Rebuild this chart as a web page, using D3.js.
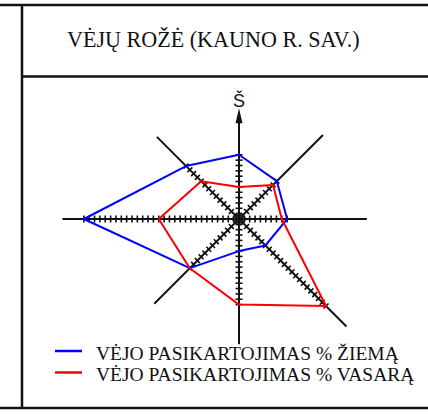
<!DOCTYPE html>
<html>
<head>
<meta charset="utf-8">
<script src="https://cdn.jsdelivr.net/npm/d3@7"></script>
<style>
  body { margin: 0; background: #fff; }
  svg { display: block; }
  .serif { font-family: "Liberation Serif", "Tinos", "Times New Roman", Times, serif; }
  .sans { font-family: "Liberation Sans", Arimo, Arial, sans-serif; }
</style>
</head>
<body>
<div id="chart"></div>
<script>
// wind directions, clockwise from north
const directions = ["Š", "ŠR", "R", "PR", "P", "PV", "V", "ŠV"]
// wind frequency in % per direction
const winterValues = [12, 10, 9, 7, 6, 13, 29, 14]
const summerValues = [6, 9, 8, 23, 16, 13, 15, 10]
// how far each compass arm is drawn, in the same % units
const armReach = [20.7, 22.2, 23.9, 28.4, 23.4, 22.4, 33, 21.7]

const title = "VĖJŲ ROŽĖ (KAUNO R. SAV.)"
const seriesNames = ["VĖJO PASIKARTOJIMAS % ŽIEMĄ", "VĖJO PASIKARTOJIMAS % VASARĄ"]
const seriesColors = ["#0000ff", "#ff0000"]

const width = 428, height = 414
const cx = 239, cy = 219

const svg = d3.select("#chart")
  .append("svg")
  .attr("width", width)
  .attr("height", height)

// frame of the table
const frame = svg.append("g").attr("stroke", "#111").attr("stroke-width", 2.5)
frame.append("line").attr("x1", 0).attr("x2", width).attr("y1", 5).attr("y2", 5)
frame.append("line").attr("x1", 22).attr("x2", width).attr("y1", 76.5).attr("y2", 76.5)
frame.append("line").attr("x1", 0).attr("x2", width).attr("y1", 408).attr("y2", 408)
frame.append("line").attr("x1", 22).attr("x2", 22).attr("y1", 5).attr("y2", 408)

svg.append("text")
  .attr("class", "serif")
  .attr("x", 67)
  .attr("y", 47)
  .attr("font-size", 22.1)
  .attr("fill", "#111")
  .text(title)

// scales: angle by direction, radius by %
const angle = d3.scalePoint()
  .domain(d3.range(directions.length))
  .range([0, 2 * Math.PI * (directions.length - 1) / directions.length])
const r = d3.scaleLinear().domain([0, 10]).range([0, 53.5])

const g = svg.append("g").attr("transform", `translate(${cx},${cy})`)

// compass arms
g.selectAll("line.arm")
  .data(armReach)
  .join("line")
  .attr("class", "arm")
  .attr("x1", 0).attr("y1", 0)
  .attr("x2", (d, i) => d3.pointRadial(angle(i), r(d))[0])
  .attr("y2", (d, i) => d3.pointRadial(angle(i), r(d))[1] + (i === 0 ? 12 : 0))
  .attr("stroke", "#111")
  .attr("stroke-width", 2)

// arrow head on north arm
const tip = r(armReach[0])
g.append("path")
  .attr("d", `M0,${-tip}L3.5,${-tip + 15}L-3.5,${-tip + 15}Z`)
  .attr("fill", "#111")

g.append("text")
  .attr("class", "sans")
  .attr("x", 0)
  .attr("y", -tip - 1)
  .attr("text-anchor", "middle")
  .attr("font-size", 18)
  .attr("fill", "#111")
  .text(directions[0])

// 1 % ticks along each arm, up to the larger of the two values
const ticks = []
directions.forEach((d, i) => {
  const max = Math.max(winterValues[i], summerValues[i])
  d3.range(1, max + 1).forEach(k => ticks.push({ i, k }))
})
g.selectAll("line.tick")
  .data(ticks)
  .join("line")
  .attr("class", "tick")
  .attr("transform", d => `rotate(${angle(d.i) * 180 / Math.PI}) translate(0,${-r(d.k)})`)
  .attr("x1", -3.5).attr("x2", 3.5)
  .attr("y1", 0).attr("y2", 0)
  .attr("stroke", "#111")
  .attr("stroke-width", 1.6)

g.append("circle")
  .attr("r", 4)
  .attr("fill", "none")
  .attr("stroke", "#111")
  .attr("stroke-width", 1.5)

// wind rose polygons
const radial = d3.lineRadial()
  .angle((d, i) => angle(i))
  .radius(d => r(d))
  .curve(d3.curveLinearClosed)

g.selectAll("path.series")
  .data([winterValues, summerValues])
  .join("path")
  .attr("class", "series")
  .attr("d", d => radial(d))
  .attr("fill", "none")
  .attr("stroke", (d, i) => seriesColors[i])
  .attr("stroke-width", 2)
  .attr("stroke-linejoin", "round")

// legend
const legend = svg.selectAll("g.legend")
  .data(seriesNames)
  .join("g")
  .attr("class", "legend")
  .attr("transform", (d, i) => `translate(55,${351 + i * 21.5})`)
legend.append("line")
  .attr("x1", 0).attr("x2", 27)
  .attr("stroke", (d, i) => seriesColors[i])
  .attr("stroke-width", 2.5)
legend.append("text")
  .attr("class", "serif")
  .attr("x", 41)
  .attr("y", 8.5)
  .attr("font-size", 19.5)
  .attr("fill", "#111")
  .text(d => d)
</script>
</body>
</html>
